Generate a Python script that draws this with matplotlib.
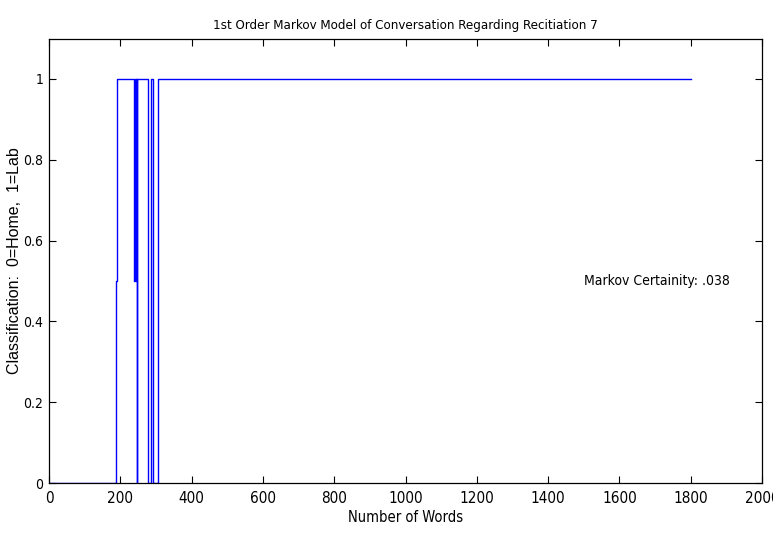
import matplotlib
matplotlib.use("Agg")

import matplotlib.pyplot as plt
from matplotlib import font_manager

# word index where the classification changes, and the value it takes from there on
words = [0, 187, 190, 239, 241, 243, 245, 246, 247, 279, 287, 292, 307, 1800]
classes = [0, 0.5, 1, 0.5, 1, 0.5, 1, 0, 1, 0, 1, 0, 1, 1]

x_ticks = [0, 200, 400, 600, 800, 1000, 1200, 1400, 1600, 1800, 2000]
y_ticks = [0, 0.2, 0.4, 0.6, 0.8, 1]
y_tick_labels = ["0", "0.2", "0.4", "0.6", "0.8", "1"]

certainty_label = "Markov Certainity: .038"


def narrow_font():
    """Pick a narrow sans face if one is installed, else plain Liberation Sans."""
    files = [f.fname for f in font_manager.fontManager.ttflist]
    for key in ("LiberationSansNarrow-Regular", "Arial Narrow", "ArialN",
                "DejaVuSansCondensed.", "RobotoCondensed-Regular",
                "Roboto_Condensed-Regular", "OpenSans_Condensed-Regular",
                "OpenSans-CondensedMedium", "NotoSans-Condensed.",
                "NotoSansDisplay-Condensed.", "Condensed-Regular", "Narrow"):
        for path in files:
            name = path.split("/")[-1]
            if key.lower() in name.lower() and "bold" not in name.lower() \
                    and "italic" not in name.lower():
                return font_manager.FontProperties(fname=path), True
    return font_manager.FontProperties(family="Liberation Sans"), False


font, is_narrow = narrow_font()
shrink = 1.0 if is_narrow else 0.8

fig = plt.figure(figsize=(7.73, 5.34), dpi=100)
ax = fig.add_axes([0.0634, 0.0955, 0.9224, 0.8324])

ax.plot(words, classes, drawstyle="steps-post", color="#0000ff", linewidth=1.0)

ax.set_xlim(0, 2000)
ax.set_ylim(0, 1.1)
ax.set_xticks(x_ticks)
ax.set_yticks(y_ticks)
ax.set_yticklabels(y_tick_labels)
ax.tick_params(direction="in", length=5, width=0.8, top=True, right=True)
ax.tick_params(axis="x", pad=6)
ax.tick_params(axis="y", pad=4)
for lbl in ax.get_xticklabels():
    lbl.set_fontproperties(font)
    lbl.set_fontsize(11 * shrink)
for lbl in ax.get_yticklabels():
    lbl.set_fontproperties(font)
    lbl.set_fontsize(10 * shrink)
for side in ax.spines.values():
    side.set_linewidth(0.9)

ax.text(1500, 0.5, certainty_label, fontproperties=font,
        fontsize=10 * shrink, va="center", ha="left")

ax.set_title("1st Order Markov Model of Conversation Regarding Recitiation 7",
             fontproperties=font, fontsize=9.5 * shrink, pad=7)
ax.set_xlabel("Number of Words", fontproperties=font, fontsize=10.5 * shrink)
ax.xaxis.set_label_coords(0.5, -0.0765)
ax.xaxis.label.set_va("center")
ax.set_ylabel("Classification:  0=Home,  1=Lab", family="Liberation Sans",
              fontsize=11.5)
ax.yaxis.set_label_coords(-0.048, 0.5)
ax.yaxis.label.set_va("center")

fig.savefig("out.png", dpi=100)
plt.close(fig)
